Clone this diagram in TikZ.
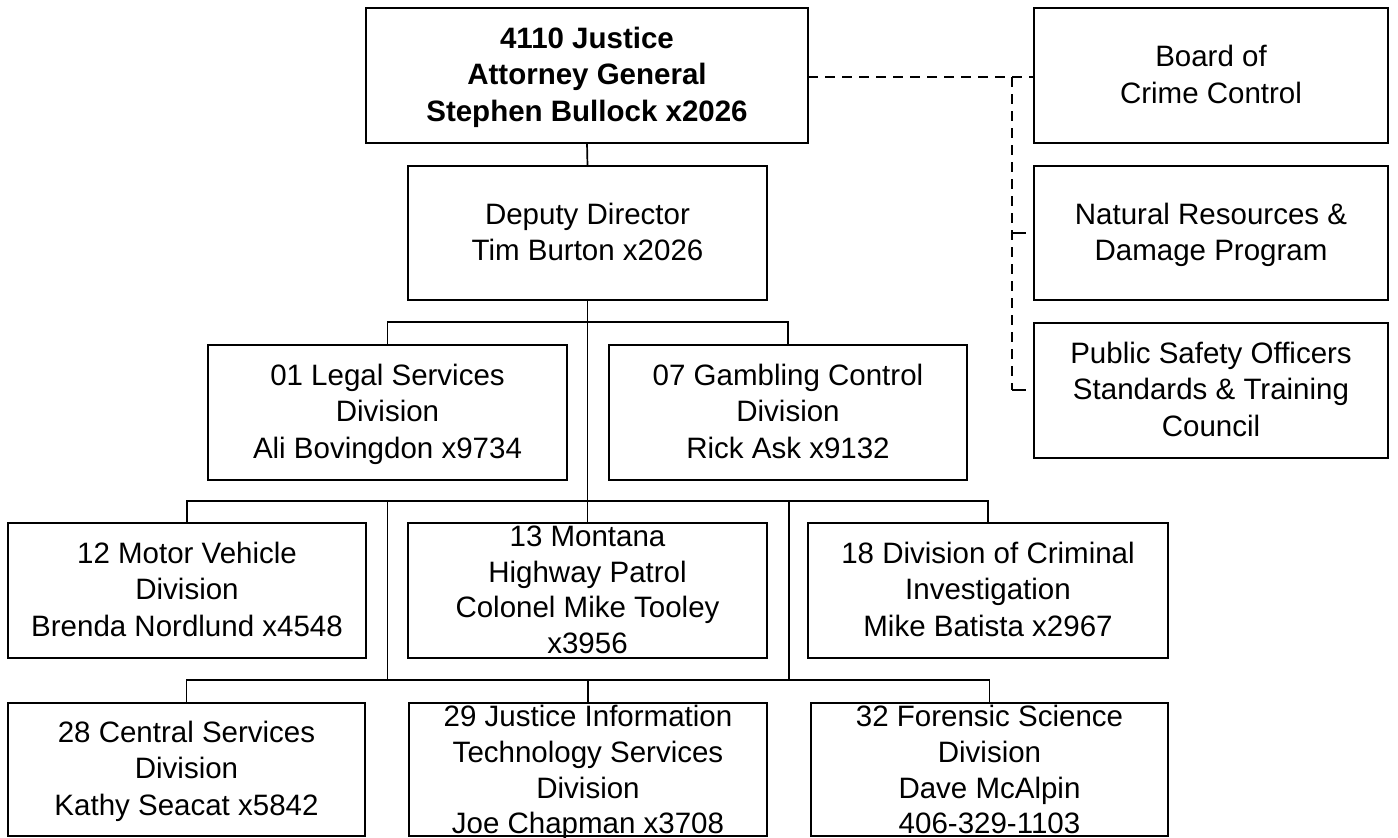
\documentclass[tikz,border=0pt]{standalone}
\usepackage{fontspec}
\setmainfont{Liberation Sans}
\newcommand\ls{\rule[-9pt]{0pt}{36.8pt}}
\newcommand\lsf{\rule[-8.45pt]{0pt}{35.6pt}}
\begin{document}
\begin{tikzpicture}[x=1pt,y=-1pt,
  box/.style={draw=black,line width=1.7pt,fill=white,inner sep=0pt,outer sep=0pt},
  txt/.style={align=center,inner sep=0pt,font=\fontsize{29.5}{36.8}\selectfont},
  txtf/.style={align=center,inner sep=0pt,font=\fontsize{29.5}{35.6}\selectfont},
  conn/.style={draw=black,line width=1.7pt},
  dconn/.style={draw=black,line width=2.5pt,dash pattern=on 10pt off 7pt}]
\useasboundingbox (0,0) rectangle (1398,838);
% boxes
\node[box,minimum width=442pt,minimum height=135pt] (top) at (587,75.5) {};
\node[box,minimum width=354pt,minimum height=135pt] (board) at (1211,75.5) {};
\node[box,minimum width=354pt,minimum height=134pt] (nat) at (1211,233) {};
\node[box,minimum width=354pt,minimum height=135pt] (pub) at (1211,390.5) {};
\node[box,minimum width=359pt,minimum height=134pt] (deputy) at (587.5,233) {};
\node[box,minimum width=359pt,minimum height=135pt] (legal) at (387.5,412.5) {};
\node[box,minimum width=358pt,minimum height=135pt] (gamb) at (788,412.5) {};
\node[box,minimum width=358pt,minimum height=135pt] (motor) at (187,590.5) {};
\node[box,minimum width=359pt,minimum height=135pt] (montana) at (587.5,590.5) {};
\node[box,minimum width=360pt,minimum height=135pt] (crim) at (988,590.5) {};
\node[box,minimum width=357pt,minimum height=133pt] (central) at (186.5,769.5) {};
\node[box,minimum width=358pt,minimum height=133pt] (jits) at (588,769.5) {};
\node[box,minimum width=357pt,minimum height=133pt] (forensic) at (989.5,769.5) {};
% texts
\node[txt,font=\fontsize{29.5}{36.8}\selectfont\bfseries] (topT) at (top.center) {\ls 4110 Justice\\\ls Attorney General\\\ls Stephen Bullock x2026};
\node[txt] (boardT) at (board.center) {\ls Board of\\\ls Crime Control};
\node[txt] (natT) at (nat.center) {\ls Natural Resources \&\\\ls Damage Program};
\node[txt] (pubT) at (pub.center) {\ls Public Safety Officers\\\ls Standards \& Training\\\ls Council};
\node[txt] (deputyT) at (deputy.center) {\ls Deputy Director\\\ls Tim Burton x2026};
\node[txt] (legalT) at (legal.center) {\ls 01 Legal Services\\\ls Division\\\ls Ali Bovingdon x9734};
\node[txt] (gambT) at (gamb.center) {\ls 07 Gambling Control\\\ls Division\\\ls Rick Ask x9132};
\node[txt] (motorT) at (motor.center) {\ls 12 Motor Vehicle\\\ls Division\\\ls Brenda Nordlund x4548};
\node[txtf] (montanaT) at (montana.center) {\lsf 13 Montana\\\lsf Highway Patrol\\\lsf Colonel Mike Tooley\\\lsf x3956};
\node[txt] (crimT) at (crim.center) {\ls 18 Division of Criminal\\\ls Investigation\\\ls Mike Batista x2967};
\node[txt] (centralT) at (central.center) {\ls 28 Central Services\\\ls Division\\\ls Kathy Seacat x5842};
\node[txtf] (jitsT) at ([yshift=-1.5pt]jits.center) {\lsf 29 Justice Information\\\lsf Technology Services\\\lsf Division\\\lsf Joe Chapman x3708};
\node[txtf] (forensicT) at ([yshift=-1.5pt]forensic.center) {\lsf 32 Forensic Science\\\lsf Division\\\lsf Dave McAlpin\\\lsf 406-329-1103};
% solid connectors
\draw[conn] (top.south) -- (deputy.north);
\draw[conn] (deputy.south) -- (montana.north);
\draw[conn] (legal.north) -- ++(0,-23) -| (gamb.north);
\draw[conn] (motor.north) -- ++(0,-22) -| (crim.north);
\coordinate (j1) at (387.5,501);
\coordinate (j2) at (789,501);
\draw[conn] (central.north) -- ++(0,-23) -| (forensic.north);
\draw[conn] (jits.north) -- ++(0,-23);
\draw[conn] (j1) -- (j1 |- 0,680);
\draw[conn] (j2) -- (j2 |- 0,680);
% dashed connectors
\coordinate (d0) at (1012,77);
\coordinate (d1) at (1012,233);
\coordinate (d2) at (1012,390);
\coordinate (e1) at (1026,233);
\coordinate (e2) at (1026,390);
\draw[dconn] (top.east |- d0) -- (board.west |- d0);
\draw[dconn] (d0) -- (d2);
\draw[draw=black,line width=2.5pt] (d1) -- (e1);
\draw[draw=black,line width=2.5pt] (d2) -- (e2);
\end{tikzpicture}
\end{document}
